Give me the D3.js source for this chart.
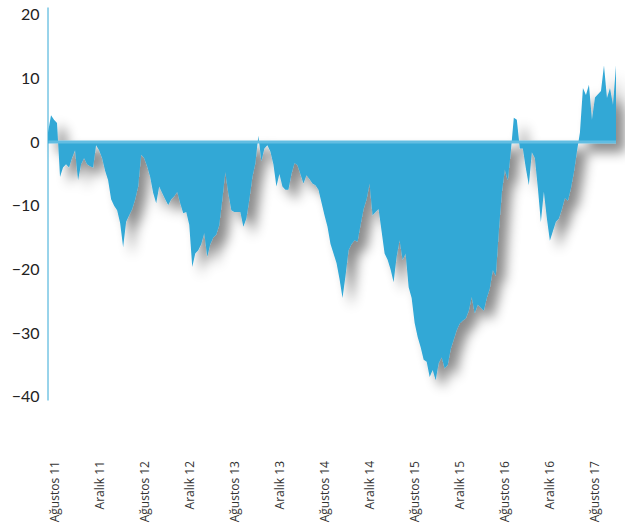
<!DOCTYPE html>
<html>
<head>
<meta charset="utf-8">
<script src="https://cdn.jsdelivr.net/npm/d3@7"></script>
<style>
  html, body { margin: 0; padding: 0; background: #fff; }
  svg { display: block; }
</style>
</head>
<body>
<svg id="chart" width="625" height="524"></svg>
<script>
// ---- data ----
const values = [
  1.5, 4.2, 3.5, 3, -5.5, -4, -3.5, -4, -2.5, -1.3,
  -6, -3.5, -2.5, -3.5, -3.8, -4, -0.5, -1.3, -2.5, -4.5,
  -6, -9, -10, -10.7, -12.7, -16.5, -12.5, -11.5, -10.5, -9,
  -7, -2, -2.5, -3.8, -5.5, -8, -9.6, -7, -8, -9,
  -9.9, -9, -8.5, -7.8, -9.6, -11.2, -11, -13, -19.6, -17.5,
  -17, -16, -14.3, -18, -16, -15, -14.5, -13, -9, -4.7,
  -8, -10.7, -11, -11, -11, -13.3, -12, -9, -5.5, -3.3,
  1, -3, -1, -0.5, -1.5, -3.5, -7, -5, -7, -7.5,
  -7.5, -5, -3.3, -3.6, -5, -6.5, -5.2, -5.8, -6.5, -6.8,
  -7.5, -9.5, -11.5, -13.3, -16, -17.5, -19, -21.5, -24.5, -21,
  -17, -16, -15.4, -15.6, -13, -10.5, -9, -6.5, -11.5, -11,
  -10.5, -14, -17.5, -18.5, -20, -22, -18, -15.4, -18.5, -17.5,
  -22.8, -24.5, -28.4, -30.6, -32.2, -34.2, -34.5, -36.9, -35.8, -37.4,
  -34.7, -33.8, -35.5, -35, -32.5, -31, -29.5, -28.5, -28, -27.7,
  -26.5, -24.3, -26.9, -25.5, -26, -26.5, -24.5, -23, -20.1, -21,
  -14, -8, -4.3, -6, -1.5, 3.8, 3.5, -1, -1, -4.1,
  -6.8, -1.6, -2.5, -7.2, -12.6, -7.8, -12, -15.5, -14, -12.5,
  -12, -10.5, -8.8, -9.2, -7.2, -4.7, -1.5, 1.5, 8.5, 7.4,
  9, 3.5, 7, 7.5, 8, 12, 6.9, 8.5, 5.8, 12
];
const xLabels = [
  "Ağustos 11", "Aralık 11", "Ağustos 12", "Aralık 12", "Ağustos 13",
  "Aralık 13", "Ağustos 14", "Aralık 14", "Ağustos 15", "Aralık 15",
  "Ağustos 16", "Aralık 16", "Ağustos 17"
];
const labelStep = 15;          // data points between labels
const yTicks = [20, 10, 0, -10, -20, -30, -40];

// ---- drawing ----
const svg = d3.select("#chart");
const x = d3.scaleLinear().domain([0, values.length - 1]).range([48, 616]);
const y = d3.scaleLinear().domain([-40.5, 21.2]).range([400, 7]);

const defs = svg.append("defs");
const f = defs.append("filter").attr("id", "shadow")
  .attr("x", "-10%").attr("y", "-10%").attr("width", "130%").attr("height", "130%");
f.append("feDropShadow")
  .attr("dx", 9).attr("dy", 9).attr("stdDeviation", 6)
  .attr("flood-color", "#000").attr("flood-opacity", 0.45);

const g = svg.append("g").attr("filter", "url(#shadow)");

const area = d3.area()
  .x((d, i) => x(i))
  .y0(y(0))
  .y1(d => y(d));

g.append("path")
  .datum(values)
  .attr("d", area)
  .attr("fill", "#33a8d6");

// zero line
g.append("line")
  .attr("x1", x(0)).attr("x2", x(values.length - 1))
  .attr("y1", y(0)).attr("y2", y(0))
  .attr("stroke", "#62bde2").attr("stroke-width", 3);

// y axis
const yAxis = d3.axisLeft(y).tickValues(yTicks).tickSize(0).tickPadding(8)
  .tickFormat(d3.format("d"));
const yg = svg.append("g").attr("transform", "translate(47.5,0)").call(yAxis);
yg.select(".domain").attr("stroke", "#33a8d6").attr("stroke-width", 1);
yg.selectAll("text")
  .attr("font-family", "Lato, 'Noto Sans', sans-serif")
  .attr("font-size", 16)
  .attr("fill", "#222");

// x axis
const tickIdx = xLabels.map((_, i) => i * labelStep);
const xAxis = d3.axisBottom(x).tickValues(tickIdx).tickSize(0).tickPadding(0)
  .tickFormat((d, i) => xLabels[i]);
const xg = svg.append("g").attr("transform", "translate(0,461)").call(xAxis);
xg.select(".domain").remove();
xg.selectAll("text")
  .attr("transform", "rotate(-90)")
  .attr("text-anchor", "end")
  .attr("x", 0)
  .attr("y", 10)
  .attr("dy", 0)
  .attr("font-family", "'Open Sans', sans-serif")
  .attr("font-size", 12)
  .attr("fill", "#333");
</script>
</body>
</html>
